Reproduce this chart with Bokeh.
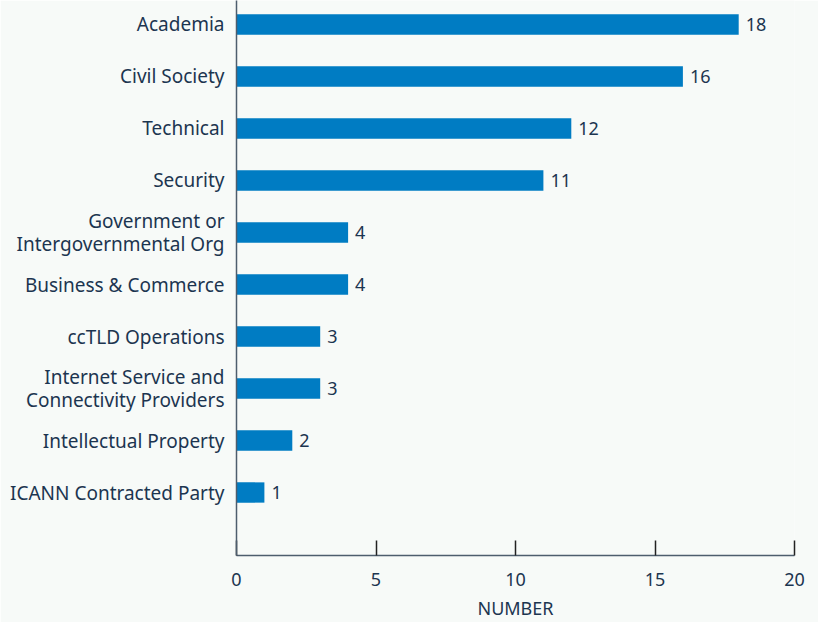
from bokeh.plotting import figure
from bokeh.models import ColumnDataSource, Range1d, FixedTicker
from bokeh.core.properties import value
from bokeh.embed import file_html
from bokeh.resources import INLINE

categories = [
    "Academia",
    "Civil Society",
    "Technical",
    "Security",
    "Government or\nIntergovernmental Org",
    "Business & Commerce",
    "ccTLD Operations",
    "Internet Service and\nConnectivity Providers",
    "Intellectual Property",
    "ICANN Contracted Party",
]
counts = [18, 16, 12, 11, 4, 4, 3, 3, 2, 1]
x_ticks = [0, 5, 10, 15, 20]
x_label = "NUMBER"

n = len(categories)
pos = [n - 1 - i for i in range(n)]  # top category first
src = ColumnDataSource(dict(y=pos, v=counts, lab=[str(c) for c in counts]))

FONT = "Noto Sans"
TXT = "#1c3550"
BG = "#f7faf8"

p = figure(
    output_backend="svg", toolbar_location=None,
    frame_width=558, frame_height=555,
    min_border_left=236, min_border_right=24, min_border_top=0, min_border_bottom=67,
    x_range=Range1d(0, 20), y_range=Range1d(-1.2115, 9.4615),
    background_fill_color=BG, border_fill_color=BG, outline_line_color=None,
)
p.hbar(y="y", right="v", left=0, height=0.39, source=src,
       fill_color="#007cc3", line_color=None)
p.text(x="v", y="y", text="lab", source=src, x_offset=7,
       text_baseline="middle", text_align="left",
       text_font=value(FONT), text_font_size="18px", text_color=TXT)

p.xgrid.visible = False
p.ygrid.visible = False

xa = p.xaxis[0]
xa.ticker = FixedTicker(ticks=x_ticks)
xa.major_tick_in = 15
xa.major_tick_out = 0
xa.minor_tick_line_color = None
xa.major_tick_line_color = "#222222"
xa.major_tick_line_width = 1.5
xa.axis_line_color = "#4d5d6d"
xa.axis_line_width = 1.5
xa.major_label_text_font = FONT
xa.major_label_text_font_size = "18px"
xa.major_label_text_color = TXT
xa.major_label_standoff = 17
xa.axis_label = x_label
xa.axis_label_text_font = FONT
xa.axis_label_text_font_size = "18px"
xa.axis_label_text_font_style = "normal"
xa.axis_label_text_color = TXT
xa.axis_label_standoff = 7

ya = p.yaxis[0]
ya.ticker = FixedTicker(ticks=pos)
ya.major_label_overrides = {pos[i]: categories[i] for i in range(n)}
ya.major_tick_in = 0
ya.major_tick_out = 0
ya.minor_tick_line_color = None
ya.axis_line_color = "#4d5d6d"
ya.axis_line_width = 1.5
ya.major_label_text_font = FONT
ya.major_label_text_font_size = "19px"
ya.major_label_text_line_height = 0.85
ya.major_label_text_color = TXT
ya.major_label_standoff = 12

open("out.html", "w").write(file_html(p, INLINE))
